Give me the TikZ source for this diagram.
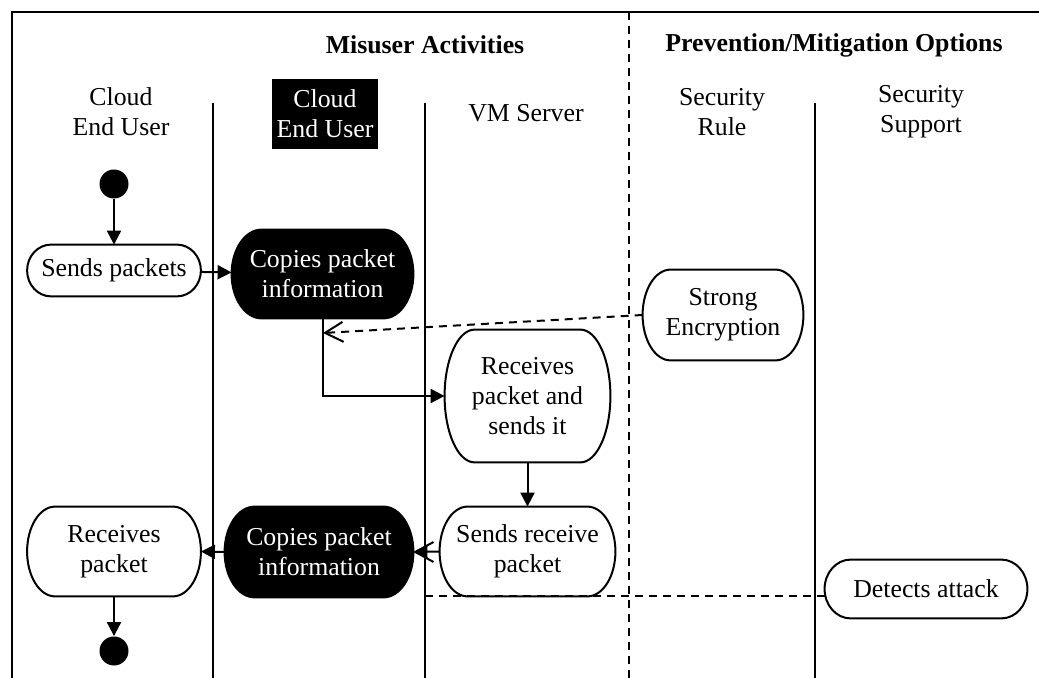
\documentclass[tikz,border=0pt]{standalone}
\usepackage{fontspec}
\setmainfont{Liberation Serif}
\usetikzlibrary{arrows.meta,backgrounds,calc}
\newcommand{\actoutline}[3][]{%
  \begin{scope}[on background layer]
  \draw[line width=1pt, #1]
    ([xshift=#3]#2.north west) -- ([xshift=-#3]#2.north east)
      .. controls ([xshift={-0.4477*#3}]#2.north east) and ($(#2.east)!0.5523!(#2.north east)$) .. (#2.east)
      .. controls ($(#2.east)!0.5523!(#2.south east)$) and ([xshift={-0.4477*#3}]#2.south east) .. ([xshift=-#3]#2.south east)
    -- ([xshift=#3]#2.south west)
      .. controls ([xshift={0.4477*#3}]#2.south west) and ($(#2.west)!0.5523!(#2.south west)$) .. (#2.west)
      .. controls ($(#2.west)!0.5523!(#2.north west)$) and ([xshift={0.4477*#3}]#2.north west) .. ([xshift=#3]#2.north west)
    -- cycle;
  \end{scope}}
\begin{document}
\begin{tikzpicture}[x=0.5pt,y=-0.5pt,
  every node/.style={font=\fontsize{12.9}{15}\selectfont, align=center},
  act/.style={rectangle, inner sep=0pt},
  dark/.style={text=white},
  lane/.style={line width=1pt},
  flow/.style={line width=1pt, -{Triangle[length=7pt,width=7pt]}},
  hint/.style={line width=1pt, dash pattern=on 4pt off 3pt, -{Straight Barb[length=9pt,width=10pt]}},
  dot/.style={circle, fill=black, minimum size=14.5pt, inner sep=0pt}
]
\useasboundingbox (0,0) rectangle (1039,678);
% frame and lanes
\draw[line width=1.1pt] (12,678) -- (12,12) -- (1039,12);
\draw[lane] (213,103) -- (213,678);
\draw[lane] (425,103) -- (425,678);
\draw[lane] (815,103) -- (815,678);
\draw[line width=1.2pt, dash pattern=on 4pt off 3pt] (629,12) -- (629,678);
% titles
\node[font=\fontsize{12.9}{15}\selectfont\bfseries] (t1) at (425,45) {Misuser Activities};
\node[font=\fontsize{12.9}{15}\selectfont\bfseries] (t2) at (834,45) {Prevention/Mitigation Options};
% lane headers
\node (h1) at (121,112) {Cloud\\End User};
\node[fill=black, text=white, minimum width=53pt, minimum height=35pt, inner sep=1pt] (h2) at (325,114) {Cloud\\End User};
\node (h3) at (526,113) {VM Server};
\node (h4) at (722,112) {Security\\Rule};
\node (h5) at (921,112) {Security\\Support};
% activities
\node[dot] (start) at (114,184) {};
\node[act, minimum width=86.5pt, minimum height=25.5pt] (sp) at (114,270.5) {Sends packets};
\node[act, dark, minimum width=90.5pt, minimum height=44pt] (cp1) at (322.5,274) {Copies packet\\information};
\node[act, minimum width=80pt, minimum height=45pt] (se) at (723,315) {Strong\\Encryption};
\node[act, minimum width=82.5pt, minimum height=66pt] (rs) at (527.5,396) {Receives\\packet and\\sends it};
\node[act, minimum width=87.5pt, minimum height=44.5pt] (sr) at (527.5,551.5) {Sends receive\\packet};
\node[act, dark, minimum width=94pt, minimum height=45pt] (cp2) at (319,552) {Copies packet\\information};
\node[act, minimum width=86.5pt, minimum height=44.5pt] (rp) at (114,551.5) {Receives\\packet};
\node[act, minimum width=101pt, minimum height=29pt] (da) at (926,589) {Detects attack};
\node[dot] (end) at (114,651) {};
% outlines
\actoutline{sp}{12pt}
\actoutline[fill=black]{cp1}{15pt}
\actoutline{se}{14pt}
\actoutline{rs}{15pt}
\actoutline{sr}{14pt}
\actoutline[fill=black]{cp2}{15pt}
\actoutline{rp}{14pt}
\actoutline{da}{13pt}
% connectors
\coordinate (encEnd) at (323,333);
\coordinate (detBend) at (425,596);
\draw[flow] (start) -- (sp);
\draw[flow] (sp) -- (cp1);
\draw[hint] (se.west) -- (encEnd);
\draw[flow] (cp1.south) |- (rs.west);
\draw[flow] (rs) -- (sr);
\draw[flow] (sr.west) -- (cp2.east);
\draw[flow] (cp2.west) -- (rp.east);
\draw[flow] (rp) -- (end);
\draw[hint] ([yshift=-3.5pt]da.west) -- (detBend) |- (cp2.east);
\end{tikzpicture}
\end{document}
